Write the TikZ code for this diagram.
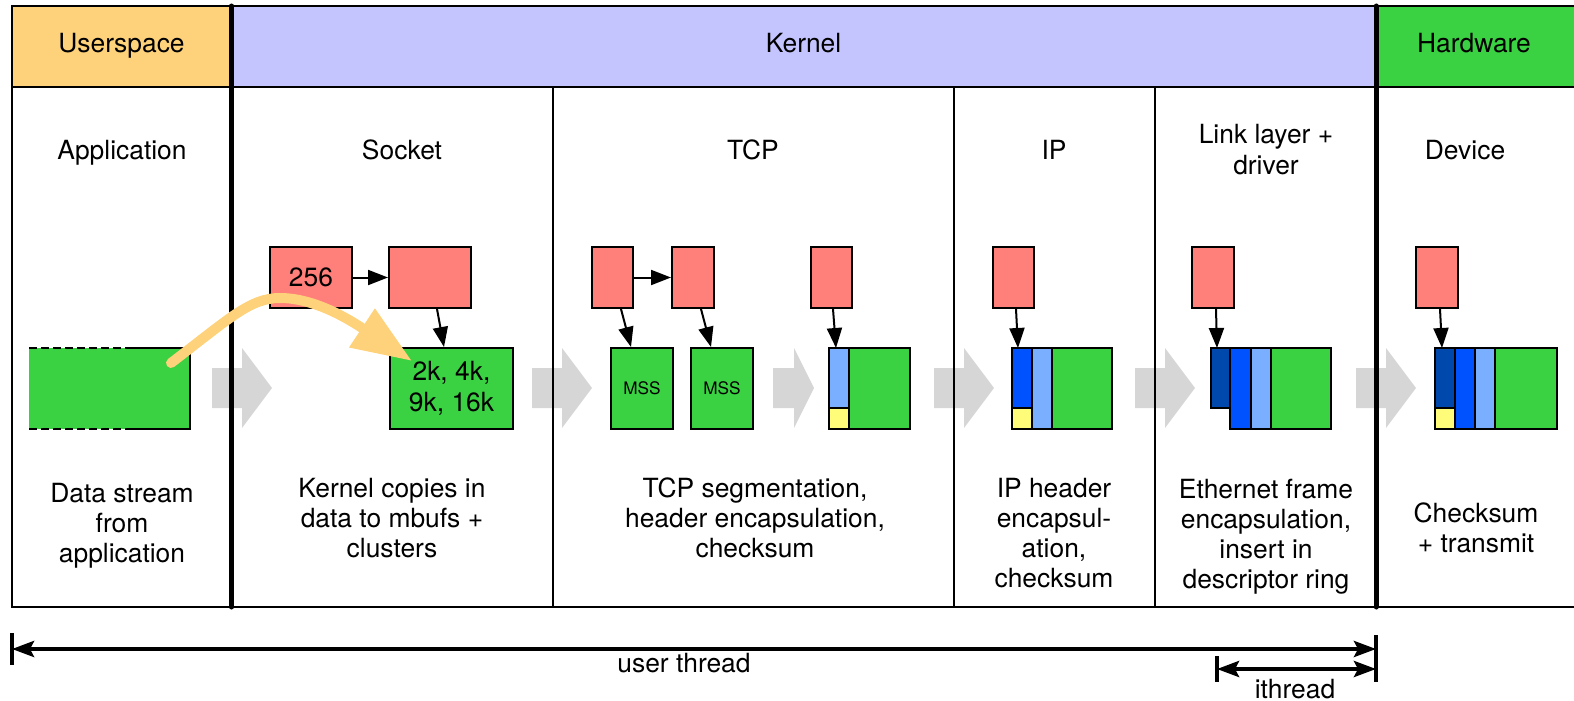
\documentclass[tikz,border=0pt]{standalone}
\usepackage{fontspec}
\setmainfont{TeX Gyre Heros}
\usepackage{tikz}
\usetikzlibrary{calc,arrows.meta}

\definecolor{userclr}{HTML}{FED27A}
\definecolor{kernelclr}{HTML}{C4C4FF}
\definecolor{greenclr}{HTML}{3AD142}
\definecolor{pinkclr}{HTML}{FF7F7A}
\definecolor{lblue}{HTML}{7AAEFF}
\definecolor{mblue}{HTML}{0052FF}
\definecolor{dblue}{HTML}{0048AB}
\definecolor{yelclr}{HTML}{FFFC7A}
\definecolor{arrowgray}{HTML}{D6D6D6}

\tikzset{
  lbl/.style={font=\fontsize{13.2}{15}\selectfont, align=center, anchor=base, inner sep=0pt},
  mbuf/.style={draw, line width=1pt, fill=pinkclr, minimum height=30.5pt, inner sep=0pt,
               font=\fontsize{13.2}{15}\selectfont},
  data/.style={draw, line width=1pt, fill=greenclr, minimum height=40.5pt, inner sep=0pt,
               align=center, font=\fontsize{13.2}{15.5}\selectfont},
  part/.style={draw, line width=1pt},
  ptr/.style={line width=1pt, -{Triangle[length=10pt,width=7.5pt]}},
  span/.style={line width=2pt, {Stealth[length=11pt,width=8pt,inset=2pt]}-{Stealth[length=11pt,width=8pt,inset=2pt]}},
}

\begin{document}
\begin{tikzpicture}[x=0.5pt, y=-0.5pt]
    \useasboundingbox (0,0) rectangle (1574,701);

    % draw header fills
    \fill[userclr]   (12,6) rectangle (231.5,87);
    \fill[kernelclr] (231.5,6) rectangle (1376,87);
    \fill[greenclr]  (1376,6) rectangle (1580,87);

    % draw gray step arrows
    \foreach \xa/\xb/\xc in {212/242/272, 532/562/592, 773/794/814, 934/964/994, 1135/1165/1195, 1356/1386/1416}
    \fill[arrowgray] (\xa,368) -- (\xb,368) -- (\xb,348) -- (\xc,388) -- (\xb,428) -- (\xb,408) -- (\xa,408) -- cycle;

    % draw frame lines
    \draw[line width=1pt] (1580,6) -- (12,6) -- (12,607) -- (1580,607);
    \draw[line width=1pt] (12,87) -- (1580,87);
    \foreach \x in {553,954,1155}
    \draw[line width=1pt] (\x,87) -- (\x,607);
    \foreach \x in {231.5,1376}
    \draw[line width=2.5pt, line cap=round] (\x,6) -- (\x,607);

    % draw header and column titles (base = last line)
    \node[lbl] (user) at (121.5,53) {Userspace};
    \node[lbl] (kern) at (803.5,53) {Kernel};
    \node[lbl] (hw)   at (1474,53)  {Hardware};

    \node[lbl] (app)  at (122,160)  {Application};
    \node[lbl] (sock) at (402,160)  {Socket};
    \node[lbl] (tcp)  at (753,160)  {TCP};
    \node[lbl] (ip)   at (1054,160) {IP};
    \node[lbl] (link) at (1266,174) {Link layer +\\driver};
    \node[lbl] (dev)  at (1465,160) {Device};

    % draw column descriptions
    \node[lbl] (appd)  at (122,562)  {Data stream\\from\\application};
    \node[lbl] (sockd) at (392,557)  {Kernel copies in\\data to mbufs +\\clusters};
    \node[lbl] (tcpd)  at (755,557)  {TCP segmentation,\\header encapsulation,\\checksum};
    \node[lbl] (ipd)   at (1054,587) {IP header\\encapsul-\\ation,\\checksum};
    \node[lbl] (linkd) at (1266,588) {Ethernet frame\\encapsulation,\\insert in\\descriptor ring};
    \node[lbl] (devd)  at (1476,552) {Checksum\\+ transmit};

    % application data stream
    \fill[greenclr] (29,348) rectangle (190,429);
    \draw[line width=1pt, dash pattern=on 4pt off 2pt] (29,348) -- (128,348) (29,429) -- (128,429);
    \draw[line width=1pt] (128,348) -- (190,348) -- (190,429) -- (128,429);

    % socket mbufs and cluster
    \node[mbuf, minimum width=41pt] (s1) at (311,277.5) {256};
    \node[mbuf, minimum width=41pt] (s2) at (430,277.5) {};
    \node[data, minimum width=61.5pt] (sg) at (451.5,388.5) {2k, 4k,\\9k, 16k};
    \draw[ptr] (s1.east) -- (s2.west);
    \draw[ptr] ($(s2.south)+(7,0)$) -- ($(sg.north)+(-7.5,0)$);

    % tcp segments
    \node[mbuf, minimum width=20.5pt] (t1) at (612.5,277.5) {};
    \node[mbuf, minimum width=21pt]   (t2) at (693,277.5) {};
    \node[mbuf, minimum width=20.5pt] (t3) at (831.5,277.5) {};
    \node[data, minimum width=31pt, font=\fontsize{8.6}{10}\selectfont] (m1) at (642,388.5) {MSS};
    \node[data, minimum width=31pt, font=\fontsize{8.6}{10}\selectfont] (m2) at (722,388.5) {MSS};
    \draw[ptr] (t1.east) -- (t2.west);
    \draw[ptr] ($(t1.south)+(8.5,0)$) -- ($(m1.north)+(-11,0)$);
    \draw[ptr] ($(t2.south)+(8,0)$) -- ($(m2.north)+(-11,0)$);

    \filldraw[part, fill=lblue]    (829,348) rectangle (849,408);
    \filldraw[part, fill=yelclr]   (829,408) rectangle (849,429);
    \filldraw[part, fill=greenclr] (849,348) rectangle (910,429);
    \coordinate (tcpin) at (836,348);
    \draw[ptr] ($(t3.south)+(1.5,0)$) -- (tcpin);

    % ip packet
    \node[mbuf, minimum width=20.5pt] (i1) at (1013.5,277.5) {};
    \filldraw[part, fill=mblue]    (1012,348) rectangle (1032,408);
    \filldraw[part, fill=yelclr]   (1012,408) rectangle (1032,429);
    \filldraw[part, fill=lblue]    (1032,348) rectangle (1052,429);
    \filldraw[part, fill=greenclr] (1052,348) rectangle (1112,429);
    \coordinate (ipin) at (1018,348);
    \draw[ptr] ($(i1.south)+(2.5,0)$) -- (ipin);

    % ethernet frame
    \node[mbuf, minimum width=21pt] (l1) at (1213,277.5) {};
    \filldraw[part, fill=dblue]    (1211,348) rectangle (1230,408);
    \filldraw[part, fill=mblue]    (1230,348) rectangle (1251,429);
    \filldraw[part, fill=lblue]    (1251,348) rectangle (1271,429);
    \filldraw[part, fill=greenclr] (1271,348) rectangle (1331,429);
    \coordinate (linkin) at (1217,348);
    \draw[ptr] ($(l1.south)+(3,0)$) -- (linkin);

    % device frame
    \node[mbuf, minimum width=21pt] (d1) at (1437,277.5) {};
    \filldraw[part, fill=dblue]    (1435,348) rectangle (1455,408);
    \filldraw[part, fill=yelclr]   (1435,408) rectangle (1455,429);
    \filldraw[part, fill=mblue]    (1455,348) rectangle (1475,429);
    \filldraw[part, fill=lblue]    (1475,348) rectangle (1495,429);
    \filldraw[part, fill=greenclr] (1495,348) rectangle (1557,429);
    \coordinate (devin) at (1442,348);
    \draw[ptr] ($(d1.south)+(3,0)$) -- (devin);

    % copy arrow into the kernel
    \draw[userclr, line width=5pt, line cap=round, -{Triangle[length=30pt,width=22pt]}]
      (171,363) .. controls (230,318) and (250,298) .. (280,298)
      .. controls (315,298) and (350,320) .. (412,361);

    % draw thread spans
    \coordinate (ut0) at (12,649);
    \coordinate (ut1) at (1376,649);
    \coordinate (it0) at (1217,669);
    \coordinate (it1) at (1376,669);
    \draw[line width=2pt] (12,633) -- (12,665);
    \draw[line width=2pt] (1376,635) -- (1376,682);
    \draw[line width=2pt] (1217,656) -- (1217,682);
    \draw[span] (ut0) -- (ut1);
    \draw[span] (it0) -- (it1);
    \node[lbl] (ut) at (684,672) {user thread};
    \node[lbl] (it) at (1295,698) {ithread};

\end{tikzpicture}
\end{document}
